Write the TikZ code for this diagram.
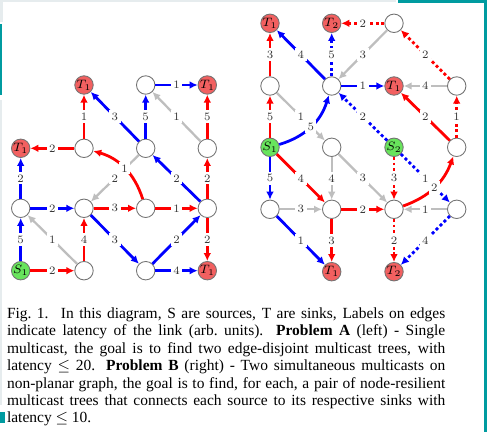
\documentclass[tikz,border=0pt]{standalone}
\usepackage{fontspec}
\newfontfamily\capfont{Liberation Serif}
\usetikzlibrary{arrows.meta}
\definecolor{sinkred}{RGB}{242,96,96}
\definecolor{srcgreen}{RGB}{104,228,92}
\definecolor{edgegray}{RGB}{190,190,190}
\definecolor{rimteal}{RGB}{0,155,160}
\definecolor{rimgray}{RGB}{230,236,238}
\begin{document}
\begin{tikzpicture}[x=0.575pt,y=-0.575pt,
  vtx/.style={circle,draw=black!55,line width=0.5pt,fill=white,minimum size=10.6pt,inner sep=0pt,font=\fontsize{6.8}{7}\selectfont},
  sink/.style={vtx,fill=sinkred},
  src/.style={vtx,fill=srcgreen},
  lab/.style={fill=white,inner sep=1.4pt,font=\fontsize{6.5}{7}\selectfont,text=black!80},
  link/.style={line width=1.6pt,-{Latex[length=4.6pt,width=4.4pt]}},
  rd/.style={link,red},
  bl/.style={link,blue},
  gr/.style={link,edgegray,line width=1.3pt},
  dots/.style={dash pattern=on 1.7pt off 1.5pt}]
\useasboundingbox (0,0) rectangle (487,432);
\fill[white] (0,0) rectangle (487,432);
% page rims
\fill[rimgray] (0,0) rectangle (396,2.5);
\fill[rimgray] (0,0) rectangle (3,22);
\fill[rimteal] (398,0) rectangle (487,3);
\fill[rimteal] (483.5,0) rectangle (487,432);
\fill[rimteal] (0,24) rectangle (2.5,95);
\fill[rimgray] (0,100) rectangle (2,405);
\fill[rimteal] (0,412) rectangle (5,423);

% ---- Problem A: single multicast ----
\node[sink] (A10) at (84,85) {$T_1$};
\node[vtx]  (A20) at (145.7,85) {};
\node[sink] (A30) at (207.3,85) {$T_1$};
\node[sink] (A01) at (20.7,148.3) {$T_1$};
\node[vtx]  (A11) at (84,148.3) {};
\node[vtx]  (A21) at (145.7,148.3) {};
\node[vtx]  (A31) at (207.3,148.3) {};
\node[vtx]  (A02) at (20.7,208.3) {};
\node[vtx]  (A12) at (84,208.3) {};
\node[vtx]  (A22) at (145.7,208.3) {};
\node[vtx]  (A32) at (207.3,208.3) {};
\node[src]  (A03) at (20.7,270.7) {$S_1$};
\node[vtx]  (A13) at (84,270.7) {};
\node[vtx]  (A23) at (145.7,270.7) {};
\node[sink] (A33) at (207.3,270.7) {$T_1$};

\draw[gr] (A31) -- node[lab]{1} (A20);
\draw[gr] (A13) -- node[lab]{1} (A02);
\draw[gr] (A21) -- node[lab]{2} (A12);
\draw[bl] (A20) -- node[lab]{1} (A30);
\draw[rd] (A31) -- node[lab]{5} (A30);
\draw[bl] (A21) -- node[lab]{5} (A20);
\draw[bl] (A21) -- node[lab]{3} (A10);
\draw[rd] (A11) -- node[lab]{1} (A10);
\draw[rd] (A11) -- node[lab]{2} (A01);
\draw[bl] (A02) -- node[lab]{2} (A01);
\draw[bl] (A03) -- node[lab]{5} (A02);
\draw[rd] (A03) -- node[lab]{2} (A13);
\draw[rd] (A13) -- node[lab]{4} (A12);
\draw[bl] (A02) -- node[lab]{2} (A12);
\draw[rd] (A12) -- node[lab]{3} (A22);
\draw[bl] (A12) -- node[lab]{3} (A23);
\draw[rd] (A22) -- node[lab]{1} (A32);
\draw[rd] (A22) to[bend right=28] node[lab]{1} (A11);
\draw[bl] (A32) -- node[lab]{2} (A21);
\draw[rd] (A32) -- node[lab]{2} (A31);
\draw[rd] (A32) -- node[lab]{2} (A33);
\draw[bl] (A23) -- node[lab]{2} (A32);
\draw[bl] (A23) -- node[lab]{4} (A33);

% ---- Problem B: two multicasts ----
\node[sink] (B00) at (270,23.3) {$T_1$};
\node[sink] (B10) at (331.7,23.3) {$T_2$};
\node[vtx]  (B20) at (394,23.3) {};
\node[vtx]  (B01) at (270,86) {};
\node[vtx]  (B11) at (331.7,86) {};
\node[sink] (B21) at (394,86) {$T_1$};
\node[vtx]  (B31) at (456.7,86) {};
\node[src]  (B02) at (270,147.3) {$S_1$};
\node[vtx]  (B12) at (331.7,147.3) {};
\node[src]  (B22) at (394,147.3) {$S_2$};
\node[vtx]  (B32) at (456.7,147.3) {};
\node[vtx]  (B03) at (270,209.3) {};
\node[vtx]  (B13) at (331.7,209.3) {};
\node[vtx]  (B23) at (394,209.3) {};
\node[vtx]  (B33) at (456.7,209.3) {};
\node[sink] (B14) at (331.7,271.7) {$T_1$};
\node[sink] (B24) at (394,271.7) {$T_2$};

\draw[gr] (B20) -- node[lab]{3} (B11);
\draw[gr] (B31) -- node[lab]{4} (B21);
\draw[gr] (B01) -- node[lab]{1} (B12);
\draw[gr] (B12) -- node[lab]{4} (B13);
\draw[gr] (B12) -- node[lab]{3} (B23);
\draw[gr] (B03) -- node[lab]{3} (B13);
\draw[gr] (B33) -- node[lab]{1} (B23);
\draw[rd] (B01) -- node[lab]{3} (B00);
\draw[rd] (B02) -- node[lab]{5} (B01);
\draw[bl] (B11) -- node[lab]{4} (B00);
\draw[bl,dots] (B11) -- node[lab]{5} (B10);
\draw[rd,dots] (B20) -- node[lab]{2} (B10);
\draw[rd,dots] (B31) -- node[lab]{2} (B20);
\draw[bl] (B11) -- node[lab]{1} (B21);
\draw[rd] (B32) -- node[lab]{2} (B21);
\draw[rd,dots] (B32) -- node[lab]{1} (B31);
\draw[bl] (B02) to[bend right=28] node[lab]{5} (B11);
\draw[bl,dots] (B22) -- node[lab]{2} (B11);
\draw[bl] (B02) -- node[lab]{5} (B03);
\draw[rd] (B02) -- node[lab]{4} (B13);
\draw[rd,dots] (B22) -- node[lab]{3} (B23);
\draw[bl,dots] (B22) -- node[lab]{1} (B33);
\draw[rd] (B23) to[bend right=25] node[lab]{2} (B32);
\draw[rd] (B13) -- node[lab]{2} (B23);
\draw[bl] (B03) -- node[lab]{1} (B14);
\draw[rd] (B13) -- node[lab]{3} (B14);
\draw[rd,dots] (B23) -- node[lab]{2} (B24);
\draw[bl,dots] (B33) -- node[lab]{4} (B24);

% ---- caption ----
\node[anchor=north west,inner sep=0pt,text width=252pt,align=justify,
      font=\capfont\fontsize{8.9}{10}\selectfont] (cap) at (6.7,307.5)
 {Fig.~1.\hspace{0.8em}In this diagram, S are sources, T are sinks, Labels on edges\linebreak
  indicate latency of the link (arb.\ units). \textbf{Problem A} (left) - Single\linebreak
  multicast, the goal is to find two edge-disjoint multicast trees, with\linebreak
  latency $\leq$ 20. \textbf{Problem B} (right) - Two simultaneous multicasts on\linebreak
  non-planar graph, the goal is to find, for each, a pair of node-resilient\linebreak
  multicast trees that connects each source to its respective sinks with\linebreak
  latency $\leq$ 10.};
\end{tikzpicture}
\end{document}
